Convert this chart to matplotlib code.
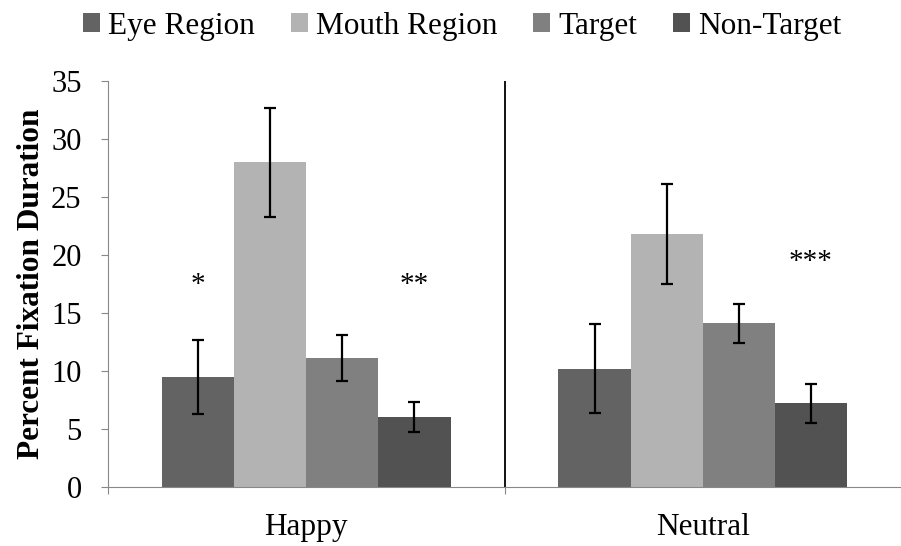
import numpy as np
import matplotlib.pyplot as plt

plt.rcParams['font.family'] = ['Liberation Serif', 'DejaVu Serif']

categories = ['Happy', 'Neutral']
series = ['Eye Region', 'Mouth Region', 'Target', 'Non-Target']
values = [
    [9.5, 10.2],   # Eye Region
    [28.0, 21.8],  # Mouth Region
    [11.1, 14.1],  # Target
    [6.0, 7.2],    # Non-Target
]
errors = [
    [3.2, 3.85],
    [4.7, 4.3],
    [2.0, 1.65],
    [1.3, 1.65],
]
colors = ['#636363', '#b3b3b3', '#808080', '#525252']
stars = ['*', '**', '***']
star_pos = [(0, 0, 17.4), (0, 3, 17.4), (1, 3, 19.4)]  # (category, series, y)

fig = plt.figure(figsize=(9.01, 5.46), dpi=100)
ax = fig.add_axes([108 / 901, 59 / 546, 793 / 901, 406 / 546])

x = np.arange(len(categories))
w = 0.182
offsets = (np.arange(len(series)) - 1.5) * w
for i, name in enumerate(series):
    ax.bar(x + offsets[i], values[i], w, color=colors[i], label=name,
           yerr=errors[i], capsize=4,
           error_kw=dict(ecolor='black', elinewidth=1.6, capthick=1.6))

for s, (c, k, yy) in zip(stars, star_pos):
    ax.text(x[c] + offsets[k], yy, s, ha='center', va='center', fontsize=21)

ax.set_xlim(-0.5, 1.5)
ax.set_ylim(0, 35)
ax.set_yticks(np.arange(0, 36, 5))
ax.axvline(0.5, color='black', lw=1.3)

for side in ['top', 'right']:
    ax.spines[side].set_visible(False)
ax.spines['left'].set_color('#888888')
ax.spines['bottom'].set_color('#888888')
ax.tick_params(axis='y', colors='#888888', labelcolor='black', labelsize=22, length=5, pad=14)
ax.set_xticks([-0.5, 0.5])
ax.set_xticklabels([])
ax.set_xticks(x, minor=True)
ax.set_xticklabels(categories, minor=True)
ax.tick_params(axis='x', which='major', colors='#888888', length=5)
ax.tick_params(axis='x', which='minor', length=0, labelsize=22.5, pad=19)

ax.set_ylabel('Percent Fixation Duration', fontsize=22.5, fontweight='bold', labelpad=4)

fig.legend(loc='upper center', bbox_to_anchor=(0.513, 1.03), ncol=4, frameon=False,
           fontsize=22.5, handlelength=0.55, handleheight=0.55, handletextpad=0.25,
           columnspacing=1.15)

fig.savefig('out.png', dpi=100)
